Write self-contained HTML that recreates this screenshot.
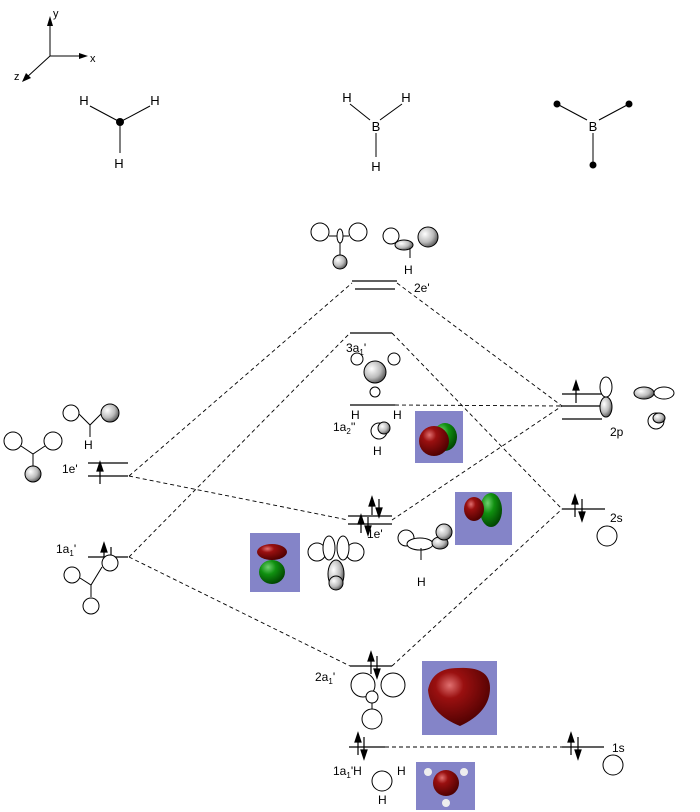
<!DOCTYPE html>
<html><head><meta charset="utf-8"><style>
html,body{margin:0;padding:0;background:#fff;}
svg{display:block;font-family:"Liberation Sans",sans-serif;}
</style></head><body>
<svg width="700" height="812" viewBox="0 0 700 812" xmlns="http://www.w3.org/2000/svg">
<defs>
<radialGradient id="g" cx="0.35" cy="0.35" r="0.7"><stop offset="0" stop-color="#fff"/><stop offset="0.6" stop-color="#bbb"/><stop offset="1" stop-color="#555"/></radialGradient>
<radialGradient id="red" cx="0.35" cy="0.3" r="0.75"><stop offset="0" stop-color="#e07070"/><stop offset="0.3" stop-color="#9a1010"/><stop offset="1" stop-color="#4a0000"/></radialGradient>
<radialGradient id="grn" cx="0.35" cy="0.3" r="0.75"><stop offset="0" stop-color="#70d070"/><stop offset="0.4" stop-color="#109010"/><stop offset="1" stop-color="#004000"/></radialGradient>
</defs>
<g stroke="#000" fill="none" stroke-width="1">
<line x1="50" y1="56" x2="50" y2="22"/><line x1="50" y1="56" x2="82" y2="56"/><line x1="50" y1="56" x2="26" y2="78"/>
</g>
<polygon points="50,16 47,26 53,26" fill="#000"/>
<polygon points="88,56 79,53 79,59" fill="#000"/>
<polygon points="22,82 26,73 31,78" fill="#000"/>
<g font-size="11" fill="#000">
<text x="53" y="17">y</text><text x="90" y="62">x</text><text x="14" y="80">z</text>
</g>
<g stroke="#000" stroke-width="1">
<line x1="90" y1="106" x2="120" y2="122"/><line x1="150" y1="106" x2="120" y2="122"/><line x1="120" y1="122" x2="120" y2="153"/>
<line x1="350" y1="104" x2="370" y2="120"/><line x1="402" y1="104" x2="380" y2="120"/><line x1="376" y1="133" x2="376" y2="157"/>
<line x1="557" y1="104" x2="587" y2="120"/><line x1="629" y1="104" x2="599" y2="120"/><line x1="593" y1="133" x2="593" y2="165"/>
</g>
<circle cx="120" cy="122" r="4" fill="#000"/>
<circle cx="557" cy="104" r="3.5" fill="#000"/><circle cx="629" cy="104" r="3.5" fill="#000"/><circle cx="593" cy="165" r="3.5" fill="#000"/>
<g font-size="13" fill="#000" text-anchor="middle">
<text x="84" y="105">H</text><text x="155" y="105">H</text><text x="119" y="168">H</text>
<text x="347" y="102">H</text><text x="406" y="102">H</text><text x="376" y="131">B</text><text x="376" y="171">H</text>
<text x="593" y="131">B</text>
</g>

<g stroke="#000" stroke-width="0.9" stroke-dasharray="4,3" fill="none">
<line x1="129" y1="476" x2="352" y2="283"/>
<line x1="129" y1="476" x2="348" y2="520"/>
<line x1="129" y1="557" x2="350" y2="333"/>
<line x1="129" y1="557" x2="350" y2="666"/>
<line x1="397" y1="283" x2="562" y2="406"/>
<line x1="392" y1="333" x2="562" y2="509"/>
<line x1="392" y1="520" x2="562" y2="406"/>
<line x1="392" y1="666" x2="562" y2="509"/>
<line x1="395" y1="405" x2="562" y2="406"/>
<line x1="385" y1="747" x2="562" y2="747"/>
</g>

<g stroke="#000" stroke-width="1.3">
<line x1="352" y1="281" x2="397" y2="281"/><line x1="355" y1="289" x2="395" y2="289"/>
<line x1="350" y1="333" x2="392" y2="333"/>
<line x1="350" y1="405" x2="395" y2="405"/>
<line x1="562" y1="394" x2="602" y2="394"/><line x1="562" y1="406" x2="602" y2="406"/><line x1="562" y1="419" x2="602" y2="419"/>
<line x1="348" y1="516" x2="392" y2="516"/><line x1="348" y1="524" x2="392" y2="524"/>
<line x1="562" y1="509" x2="605" y2="509"/>
<line x1="350" y1="666" x2="392" y2="666"/>
<line x1="349" y1="747" x2="385" y2="747"/>
<line x1="562" y1="747" x2="604" y2="747"/>
<line x1="88" y1="463" x2="128" y2="463"/><line x1="88" y1="476" x2="128" y2="476"/>
<line x1="88" y1="557" x2="128" y2="557"/>
</g>

<g stroke="#000" stroke-width="1.2" fill="#000">
<line x1="576" y1="403" x2="576" y2="385"/><polygon points="576,381 573,390 579,390"/>
<line x1="100" y1="484" x2="100" y2="466"/><polygon points="100,462 97,471 103,471"/>
<line x1="104" y1="565" x2="104" y2="547"/><polygon points="104,543 101,552 107,552"/>
<line x1="111" y1="547" x2="111" y2="565"/><polygon points="111,569 108,560 114,560"/>
<line x1="575" y1="517" x2="575" y2="499"/><polygon points="575,495 572,504 578,504"/>
<line x1="582" y1="499" x2="582" y2="517"/><polygon points="582,521 579,512 585,512"/>
<line x1="372" y1="515" x2="372" y2="501"/><polygon points="372,497 369,506 375,506"/>
<line x1="379" y1="499" x2="379" y2="513"/><polygon points="379,517 376,508 382,508"/>
<line x1="361" y1="533" x2="361" y2="519"/><polygon points="361,515 358,524 364,524"/>
<line x1="368" y1="517" x2="368" y2="531"/><polygon points="368,535 365,526 371,526"/>
<line x1="371" y1="674" x2="371" y2="656"/><polygon points="371,652 368,661 374,661"/>
<line x1="377" y1="656" x2="377" y2="674"/><polygon points="377,678 374,669 380,669"/>
<line x1="358" y1="755" x2="358" y2="737"/><polygon points="358,733 355,742 361,742"/>
<line x1="364" y1="737" x2="364" y2="755"/><polygon points="364,759 361,750 367,750"/>
<line x1="571" y1="755" x2="571" y2="737"/><polygon points="571,733 568,742 574,742"/>
<line x1="578" y1="737" x2="578" y2="755"/><polygon points="578,759 575,750 581,750"/>
</g>

<g font-size="12" fill="#000">
<text x="414" y="292">2e'</text>
<text x="346" y="352">3a<tspan font-size="8" dy="3">1</tspan><tspan dy="-3">'</tspan></text>
<text x="333" y="431">1a<tspan font-size="8" dy="3">2</tspan><tspan dy="-3">''</tspan></text>
<text x="610" y="436">2p</text>
<text x="610" y="522">2s</text>
<text x="367" y="538">1e'</text>
<text x="62" y="473">1e'</text>
<text x="56" y="553">1a<tspan font-size="8" dy="3">1</tspan><tspan dy="-3">'</tspan></text>
<text x="315" y="681">2a<tspan font-size="8" dy="3">1</tspan><tspan dy="-3">'</tspan></text>
<text x="612" y="752">1s</text>
<text x="333" y="775">1a<tspan font-size="8" dy="3">1</tspan><tspan dy="-3">'H</tspan></text>
<text x="397" y="775">H</text><text x="378" y="804">H</text>
<text x="351" y="419">H</text><text x="393" y="419">H</text><text x="373" y="455">H</text>
<text x="404" y="274">H</text>
<text x="84" y="449">H</text>
<text x="417" y="586">H</text>
</g>

<g fill="#8484c8">
<rect x="415" y="411" width="48" height="52"/>
<rect x="455" y="492" width="57" height="53"/>
<rect x="250" y="533" width="50" height="59"/>
<rect x="422" y="661" width="75" height="74"/>
<rect x="416" y="762" width="59" height="48"/>
</g>
<ellipse cx="445" cy="437" rx="12" ry="14" fill="url(#grn)"/>
<circle cx="434" cy="441" r="15" fill="url(#red)"/>
<ellipse cx="491" cy="510" rx="11" ry="17" fill="url(#grn)"/>
<ellipse cx="474" cy="509" rx="10" ry="12" fill="url(#red)"/>
<ellipse cx="272" cy="552" rx="15" ry="8" fill="url(#red)"/>
<ellipse cx="272" cy="572" rx="13" ry="12" fill="url(#grn)"/>
<path d="M428,690 Q432,668 458,668 Q490,666 490,688 Q490,712 460,726 Q430,714 428,690Z" fill="url(#red)"/>
<circle cx="446" cy="783" r="13" fill="url(#red)"/>
<circle cx="428" cy="772" r="4" fill="#eee"/><circle cx="464" cy="772" r="4" fill="#eee"/><circle cx="446" cy="803" r="4" fill="#eee"/>

<g stroke="#000" stroke-width="1" fill="#fff">
<circle cx="320" cy="232" r="9"/><circle cx="358" cy="232" r="9"/>
<line x1="329" y1="236" x2="349" y2="236"/>
<ellipse cx="340" cy="236" rx="3" ry="7"/><line x1="340" y1="243" x2="340" y2="255"/>
<circle cx="340" cy="262" r="7" fill="url(#g)"/>
<circle cx="391" cy="236" r="8"/>
<ellipse cx="404" cy="245" rx="9" ry="5" fill="url(#g)"/>
<circle cx="428" cy="237" r="10" fill="url(#g)"/>
<line x1="410" y1="248" x2="410" y2="258"/>
<circle cx="357" cy="359" r="6"/><circle cx="394" cy="359" r="6"/><circle cx="375" cy="392" r="5"/>
<circle cx="375" cy="372" r="11" fill="url(#g)"/>
<circle cx="379" cy="431" r="8"/><circle cx="384" cy="428" r="6" fill="url(#g)"/>
<ellipse cx="606" cy="387" rx="6" ry="10"/><ellipse cx="606" cy="407" rx="6" ry="10" fill="url(#g)"/>
<ellipse cx="644" cy="393" rx="10" ry="6" fill="url(#g)"/><ellipse cx="664" cy="393" rx="10" ry="6"/>
<circle cx="656" cy="421" r="8"/><ellipse cx="659" cy="418" rx="6" ry="5" fill="url(#g)"/>
<circle cx="607" cy="536" r="10"/>
<circle cx="613" cy="765" r="10"/>
<circle cx="317" cy="552" r="9"/><circle cx="355" cy="552" r="9"/>
<ellipse cx="329" cy="548" rx="6" ry="12"/><ellipse cx="343" cy="548" rx="6" ry="12"/>
<ellipse cx="336" cy="574" rx="8" ry="14" fill="url(#g)"/><circle cx="336" cy="583" r="7" fill="url(#g)"/>
<circle cx="406" cy="538" r="8"/><ellipse cx="420" cy="544" rx="13" ry="6"/>
<ellipse cx="440" cy="543" rx="8" ry="6" fill="url(#g)"/><circle cx="444" cy="532" r="8" fill="url(#g)"/>
<line x1="421" y1="548" x2="421" y2="560"/>
<circle cx="71" cy="413" r="8"/><circle cx="110" cy="413" r="9" fill="url(#g)"/>
<polyline points="79,414 90,425 101,414"/><line x1="90" y1="425" x2="90" y2="437"/>
<circle cx="13" cy="441" r="9"/><circle cx="53" cy="441" r="9"/>
<polyline points="21,446 33,454 45,446"/><line x1="33" y1="454" x2="33" y2="466"/>
<circle cx="33" cy="474" r="8" fill="url(#g)"/>
<circle cx="110" cy="563" r="8"/>
<circle cx="72" cy="575" r="8"/>
<polyline points="80,578 91,585 102,567"/><line x1="91" y1="585" x2="91" y2="597"/>
<circle cx="91" cy="606" r="8"/>
<circle cx="363" cy="685" r="12"/><circle cx="393" cy="685" r="12"/>
<circle cx="372" cy="697" r="6"/>
<line x1="372" y1="703" x2="372" y2="709"/>
<circle cx="372" cy="719" r="10"/>
<circle cx="382" cy="781" r="10"/>
</g>
</svg>
</body></html>
